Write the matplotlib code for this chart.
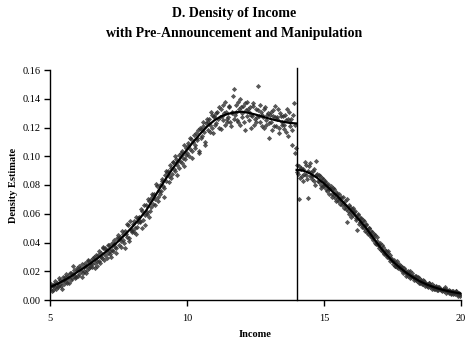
import numpy as np
import matplotlib
matplotlib.use("Agg")
import matplotlib.pyplot as plt

plt.rcParams['font.family'] = ['Liberation Serif', 'DejaVu Serif']

# ---- data ----
cutoff = 14.0

# scatter, first set of bins (every 0.05 starting at 5.00 / 14.00)
left_x = np.round(np.arange(5.0, 13.99, 0.05), 3)
left_y = [
    0.008, 0.010, 0.007, 0.011, 0.009,
    0.012, 0.009, 0.014, 0.010, 0.013,
    0.011, 0.016, 0.013, 0.017, 0.012,
    0.019, 0.015, 0.024, 0.017, 0.016,
    0.021, 0.018, 0.022, 0.025, 0.019,
    0.020, 0.024, 0.021, 0.027, 0.023,
    0.028, 0.025, 0.030, 0.026, 0.024,
    0.031, 0.027, 0.033, 0.029, 0.036,
    0.031, 0.035, 0.033, 0.038, 0.032,
    0.040, 0.034, 0.039, 0.036, 0.043,
    0.038, 0.044, 0.041, 0.046, 0.040,
    0.048, 0.044, 0.052, 0.043, 0.049,
    0.049, 0.055, 0.050, 0.046, 0.057,
    0.058, 0.054, 0.062, 0.056, 0.052,
    0.066, 0.060, 0.069, 0.062, 0.071,
    0.067, 0.074, 0.070, 0.079, 0.072,
    0.080, 0.076, 0.083, 0.078, 0.087,
    0.083, 0.090, 0.086, 0.092, 0.088,
    0.096, 0.090, 0.098, 0.094, 0.101,
    0.097, 0.104, 0.099, 0.093, 0.106,
    0.102, 0.109, 0.105, 0.112, 0.104,
    0.115, 0.108, 0.113, 0.118, 0.104,
    0.119, 0.114, 0.121, 0.110, 0.123,
    0.118, 0.126, 0.122, 0.129, 0.116,
    0.128, 0.123, 0.131, 0.120, 0.127,
    0.133, 0.125, 0.130, 0.138, 0.124,
    0.127, 0.134, 0.121, 0.131, 0.147,
    0.129, 0.136, 0.124, 0.133, 0.140,
    0.127, 0.135, 0.118, 0.132, 0.138,
    0.125, 0.134, 0.129, 0.137, 0.122,
    0.133, 0.127, 0.149, 0.124, 0.131,
    0.129, 0.120, 0.134, 0.125, 0.130,
    0.123, 0.131, 0.118, 0.128, 0.135,
    0.121, 0.127, 0.116, 0.130, 0.124,
    0.128, 0.119, 0.125, 0.133, 0.114,
    0.121, 0.126, 0.108, 0.137, 0.102,
]

# second set of bins (offset by 0.025)
left2_x = np.round(np.arange(5.025, 14.0, 0.05), 3)
left2_y = [
    0.011, 0.006, 0.010, 0.013, 0.008,
    0.010, 0.015, 0.011, 0.008, 0.016,
    0.014, 0.018, 0.012, 0.015, 0.019,
    0.014, 0.018, 0.021, 0.015, 0.022,
    0.017, 0.024, 0.020, 0.016, 0.023,
    0.026, 0.019, 0.028, 0.022, 0.025,
    0.023, 0.029, 0.022, 0.031, 0.027,
    0.034, 0.026, 0.030, 0.037, 0.028,
    0.036, 0.029, 0.038, 0.034, 0.030,
    0.035, 0.042, 0.037, 0.033, 0.045,
    0.043, 0.037, 0.048, 0.042, 0.036,
    0.046, 0.053, 0.041, 0.055, 0.047,
    0.053, 0.047, 0.058, 0.051, 0.054,
    0.055, 0.063, 0.050, 0.066, 0.059,
    0.061, 0.070, 0.058, 0.065, 0.074,
    0.073, 0.066, 0.081, 0.069, 0.076,
    0.074, 0.084, 0.079, 0.072, 0.090,
    0.089, 0.082, 0.094, 0.085, 0.096,
    0.091, 0.100, 0.087, 0.097, 0.092,
    0.102, 0.095, 0.108, 0.098, 0.101,
    0.107, 0.100, 0.113, 0.099, 0.110,
    0.106, 0.116, 0.111, 0.102, 0.120,
    0.113, 0.124, 0.117, 0.108, 0.126,
    0.124, 0.117, 0.131, 0.120, 0.127,
    0.122, 0.130, 0.126, 0.134, 0.119,
    0.128, 0.136, 0.122, 0.131, 0.126,
    0.135, 0.124, 0.130, 0.142, 0.126,
    0.131, 0.125, 0.138, 0.122, 0.134,
    0.130, 0.124, 0.137, 0.128, 0.133,
    0.131, 0.120, 0.128, 0.135, 0.126,
    0.124, 0.132, 0.128, 0.136, 0.121,
    0.127, 0.133, 0.122, 0.129, 0.113,
    0.129, 0.124, 0.132, 0.121, 0.127,
    0.126, 0.133, 0.120, 0.128, 0.122,
    0.122, 0.129, 0.117, 0.126, 0.131,
    0.124, 0.118, 0.129, 0.122, 0.106,
]

right_x = np.round(np.arange(14.0, 19.99, 0.05), 3)
right_y = [
    0.094, 0.088, 0.070, 0.092, 0.086,
    0.091, 0.096, 0.087, 0.071, 0.093,
    0.095, 0.086, 0.090, 0.083, 0.097,
    0.088, 0.082, 0.086, 0.078, 0.084,
    0.079, 0.083, 0.076, 0.081, 0.077,
    0.079, 0.072, 0.077, 0.071, 0.075,
    0.069, 0.074, 0.070, 0.066, 0.072,
    0.069, 0.063, 0.054, 0.060, 0.065,
    0.058, 0.064, 0.061, 0.056, 0.049,
    0.059, 0.054, 0.057, 0.051, 0.055,
    0.048, 0.053, 0.046, 0.050, 0.044,
    0.047, 0.042, 0.045, 0.039, 0.041,
    0.036, 0.040, 0.034, 0.037, 0.032,
    0.034, 0.030, 0.033, 0.027, 0.029,
    0.025, 0.028, 0.024, 0.027, 0.022,
    0.024, 0.021, 0.023, 0.019, 0.021,
    0.017, 0.020, 0.018, 0.015, 0.019,
    0.016, 0.014, 0.017, 0.013, 0.015,
    0.012, 0.014, 0.011, 0.013, 0.010,
    0.011, 0.009, 0.012, 0.010, 0.008,
    0.010, 0.008, 0.009, 0.007, 0.009,
    0.008, 0.006, 0.007, 0.009, 0.005,
    0.007, 0.005, 0.006, 0.004, 0.006,
    0.005, 0.006, 0.004, 0.005, 0.003,
]

right2_x = np.round(np.arange(14.025, 20.0, 0.05), 3)
right2_y = [
    0.089, 0.093, 0.085, 0.091, 0.083,
    0.088, 0.094, 0.084, 0.090, 0.086,
    0.089, 0.084, 0.091, 0.080, 0.087,
    0.083, 0.087, 0.080, 0.085, 0.079,
    0.082, 0.077, 0.080, 0.074, 0.078,
    0.074, 0.078, 0.073, 0.069, 0.074,
    0.071, 0.067, 0.072, 0.068, 0.064,
    0.066, 0.070, 0.062, 0.066, 0.061,
    0.063, 0.059, 0.062, 0.057, 0.060,
    0.053, 0.057, 0.052, 0.056, 0.050,
    0.052, 0.047, 0.050, 0.045, 0.048,
    0.043, 0.046, 0.040, 0.044, 0.038,
    0.039, 0.035, 0.038, 0.033, 0.035,
    0.031, 0.034, 0.029, 0.031, 0.028,
    0.027, 0.024, 0.026, 0.023, 0.025,
    0.022, 0.024, 0.020, 0.022, 0.019,
    0.019, 0.017, 0.020, 0.016, 0.017,
    0.015, 0.017, 0.014, 0.016, 0.012,
    0.013, 0.011, 0.014, 0.012, 0.011,
    0.010, 0.012, 0.009, 0.011, 0.009,
    0.008, 0.010, 0.007, 0.009, 0.008,
    0.007, 0.008, 0.006, 0.008, 0.006,
    0.006, 0.007, 0.005, 0.006, 0.004,
    0.004, 0.006, 0.003, 0.005, 0.004,
]

# fitted density (every 0.25)
fit_left_x = [5.00, 5.25, 5.50, 5.75, 6.00, 6.25, 6.50, 6.75, 7.00, 7.25,
              7.50, 7.75, 8.00, 8.25, 8.50, 8.75, 9.00, 9.25, 9.50, 9.75,
              10.00, 10.25, 10.50, 10.75, 11.00, 11.25, 11.50, 11.75, 12.00,
              12.25, 12.50, 12.75, 13.00, 13.25, 13.50, 13.75, 14.00]
fit_left_y = [0.0090, 0.0110, 0.0135, 0.0162, 0.0195, 0.0225, 0.0258, 0.0292,
              0.0330, 0.0368, 0.0410, 0.0457, 0.0508, 0.0562, 0.0620, 0.0695,
              0.0775, 0.0850, 0.0920, 0.0985, 0.1045, 0.1105, 0.1160, 0.1210,
              0.1250, 0.1278, 0.1295, 0.1305, 0.1310, 0.1302, 0.1290, 0.1276,
              0.1262, 0.1250, 0.1240, 0.1232, 0.1228]
fit_right_x = [14.00, 14.25, 14.50, 14.75, 15.00, 15.25, 15.50, 15.75, 16.00,
               16.25, 16.50, 16.75, 17.00, 17.25, 17.50, 17.75, 18.00, 18.25,
               18.50, 18.75, 19.00, 19.25, 19.50, 19.75, 20.00]
fit_right_y = [0.0905, 0.0900, 0.0880, 0.0850, 0.0810, 0.0765, 0.0720, 0.0670,
               0.0620, 0.0565, 0.0510, 0.0445, 0.0380, 0.0322, 0.0270, 0.0228,
               0.0190, 0.0158, 0.0130, 0.0108, 0.0090, 0.0075, 0.0063, 0.0053,
               0.0045]

x_ticks = [5, 10, 15, 20]
y_ticks = [0.00, 0.02, 0.04, 0.06, 0.08, 0.10, 0.12, 0.14, 0.16]

# ---- figure ----
W, H = 468, 343
fig = plt.figure(figsize=(W / 100, H / 100), dpi=100)
ax = fig.add_axes([50 / W, 1 - 300 / H, 411 / W, 230 / H])

mk = dict(marker='D', s=7, color='#2e2e2e', linewidths=0, alpha=0.8, zorder=2)
ax.scatter(left_x, left_y, **mk)
ax.scatter(left2_x, left2_y, **mk)
ax.scatter(right_x, right_y, **mk)
ax.scatter(right2_x, right2_y, **mk)
ax.plot(fit_left_x, fit_left_y, color='black', lw=1.6, zorder=3)
ax.plot(fit_right_x, fit_right_y, color='black', lw=1.6, zorder=3)
ax.axvline(cutoff, color='black', lw=1.0, ymax=1.01, clip_on=False, zorder=3)

ax.set_xlim(5, 20)
ax.set_ylim(0, 0.16)
ax.set_xticks(x_ticks)
ax.set_yticks(y_ticks)
ax.set_yticklabels([f"{v:.2f}" for v in y_ticks])
for s in ['top', 'right']:
    ax.spines[s].set_visible(False)
for s in ['left', 'bottom']:
    ax.spines[s].set_linewidth(1.0)
ax.tick_params(axis='both', direction='out', length=4, width=1.0,
               labelsize=7.5, pad=3)
ax.tick_params(axis='x', pad=6)

ax.set_xlabel('Income', fontsize=7.5, fontweight='bold', labelpad=5)
ax.set_ylabel('Density Estimate', fontsize=7.5, fontweight='bold', labelpad=3)

fig.text(0.5, 1 - 14 / H, 'D. Density of Income', ha='center', va='center',
         fontsize=10, fontweight='bold')
fig.text(0.5, 1 - 33 / H, 'with Pre-Announcement and Manipulation',
         ha='center', va='center', fontsize=10, fontweight='bold')

fig.savefig('out.png', dpi=100)
